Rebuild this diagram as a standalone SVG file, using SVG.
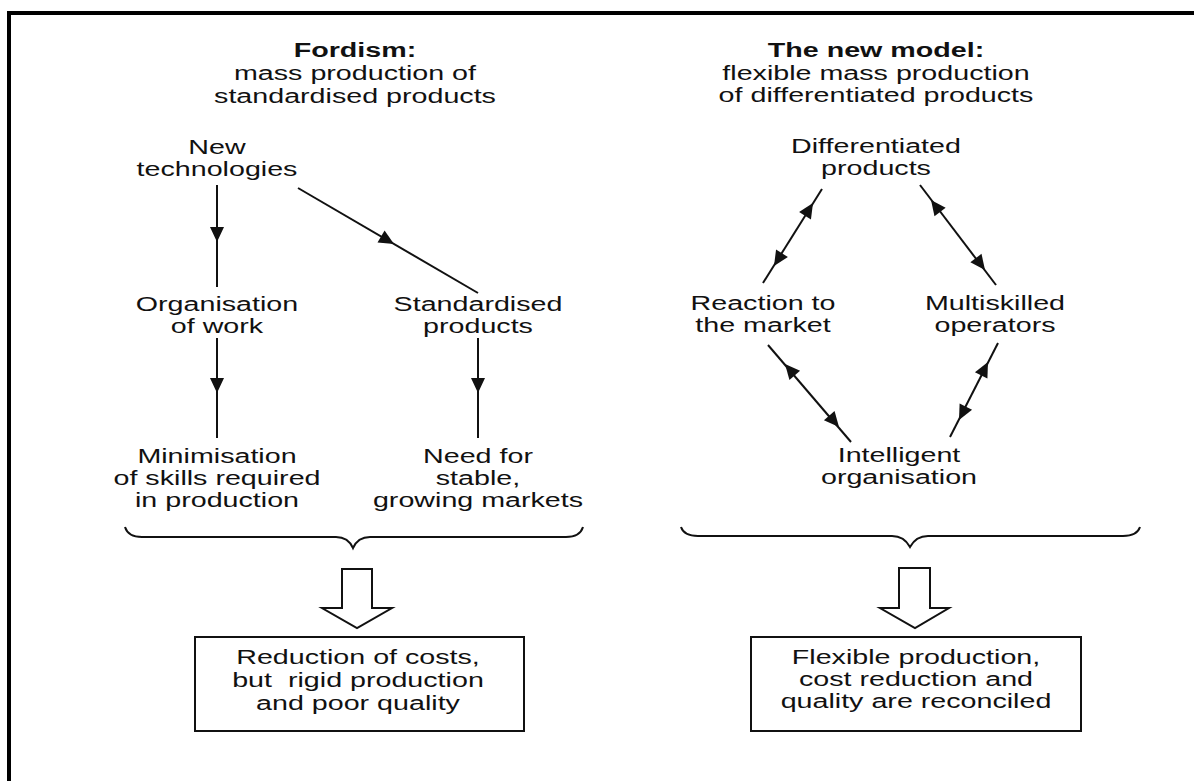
<svg xmlns="http://www.w3.org/2000/svg" xmlns:xlink="http://www.w3.org/1999/xlink" width="1194" height="781" viewBox="0 0 1194 781">
<style>
text{font-family:"Liberation Sans",Arial,Helvetica,sans-serif;font-size:19.5px;fill:#111;text-anchor:middle}
.b{font-weight:bold}
.ln{stroke:#111;stroke-width:2;fill:none}
.hd{fill:#111}
.box{fill:#fff;stroke:#111;stroke-width:2}
.fat{fill:#fff;stroke:#111;stroke-width:2;stroke-linejoin:miter}
</style>
<defs>
<path id="head" d="M0,0 L-15,-7 L-15,7 Z"/>
</defs>
<rect width="1194" height="781" fill="#fff"/>
<path d="M9,781 V13 H1194" fill="none" stroke="#000" stroke-width="4"/>

<g id="title-left" transform="translate(355,0) scale(1.47,1)">
<text class="b" x="0" y="57">Fordism:</text>
<text x="0" y="80">mass production of</text>
<text x="0" y="103">standardised products</text>
</g>
<g id="title-right" transform="translate(876,0) scale(1.47,1)">
<text class="b" x="0" y="57">The new model:</text>
<text x="0" y="80">flexible mass production</text>
<text x="0" y="102">of differentiated products</text>
</g>

<g id="new-technologies" transform="translate(217,0) scale(1.47,1)">
<text x="0" y="154">New</text>
<text x="0" y="176">technologies</text>
</g>
<g id="organisation-of-work" transform="translate(217,0) scale(1.47,1)">
<text x="0" y="311">Organisation</text>
<text x="0" y="333">of work</text>
</g>
<g id="standardised-products" transform="translate(478,0) scale(1.47,1)">
<text x="0" y="311">Standardised</text>
<text x="0" y="333">products</text>
</g>
<g id="minimisation" transform="translate(217,0) scale(1.47,1)">
<text x="0" y="463">Minimisation</text>
<text x="0" y="485">of skills required</text>
<text x="0" y="507">in production</text>
</g>
<g id="need-markets" transform="translate(478,0) scale(1.47,1)">
<text x="0" y="463">Need for</text>
<text x="0" y="485">stable,</text>
<text x="0" y="507">growing markets</text>
</g>

<g id="differentiated-products" transform="translate(876,0) scale(1.47,1)">
<text x="0" y="153">Differentiated</text>
<text x="0" y="175">products</text>
</g>
<g id="reaction-market" transform="translate(763,0) scale(1.47,1)">
<text x="0" y="310">Reaction to</text>
<text x="0" y="332">the market</text>
</g>
<g id="multiskilled" transform="translate(995,0) scale(1.47,1)">
<text x="0" y="310">Multiskilled</text>
<text x="0" y="332">operators</text>
</g>
<g id="intelligent-organisation" transform="translate(899,0) scale(1.47,1)">
<text x="0" y="462">Intelligent</text>
<text x="0" y="484">organisation</text>
</g>

<g id="result-left">
<rect class="box" x="195" y="637" width="329" height="94"/>
<g transform="translate(358,0) scale(1.47,1)">
<text x="0" y="664">Reduction of costs,</text>
<text x="0" y="687" xml:space="preserve">but  rigid production</text>
<text x="0" y="710">and poor quality</text>
</g>
</g>
<g id="result-right">
<rect class="box" x="751" y="637" width="330" height="94"/>
<g transform="translate(916,0) scale(1.47,1)">
<text x="0" y="664">Flexible production,</text>
<text x="0" y="686">cost reduction and</text>
<text x="0" y="708">quality are reconciled</text>
</g>
</g>

<g id="connectors">
<line class="ln" x1="217" y1="185" x2="217" y2="287"/>
<use href="#head" class="hd" transform="translate(217,242) rotate(90)"/>
<line class="ln" x1="298" y1="188" x2="478" y2="293"/>
<use href="#head" class="hd" transform="translate(394,244) rotate(30.3)"/>
<line class="ln" x1="217" y1="338" x2="217" y2="438"/>
<use href="#head" class="hd" transform="translate(217,393) rotate(90)"/>
<line class="ln" x1="478" y1="338" x2="478" y2="438"/>
<use href="#head" class="hd" transform="translate(478,393) rotate(90)"/>

<line class="ln" x1="822" y1="189" x2="763" y2="283"/>
<use href="#head" class="hd" transform="translate(813,203) rotate(-57.9)"/>
<use href="#head" class="hd" transform="translate(774,266) rotate(122.1)"/>
<line class="ln" x1="920" y1="185" x2="996" y2="285"/>
<use href="#head" class="hd" transform="translate(931,200) rotate(-127.2)"/>
<use href="#head" class="hd" transform="translate(985,270) rotate(52.8)"/>
<line class="ln" x1="768" y1="345" x2="851" y2="442"/>
<use href="#head" class="hd" transform="translate(785,364) rotate(-130.6)"/>
<use href="#head" class="hd" transform="translate(839,427) rotate(49.4)"/>
<line class="ln" x1="998" y1="343" x2="950" y2="437"/>
<use href="#head" class="hd" transform="translate(988,362) rotate(-62.9)"/>
<use href="#head" class="hd" transform="translate(959,420) rotate(117.1)"/>

<path class="ln" d="M125,527 Q128,537 142,537 H336 Q348,537 353,548 Q358,537 370,537 H566 Q580,537 583,527"/>
<path class="ln" d="M681,527 Q684,536 698,536 H892 Q904,536 910,547 Q916,536 928,536 H1123 Q1137,536 1140,527"/>

<path class="fat" d="M342,569 H372 V608 H392 L357,628 L322,608 H342 Z"/>
<path class="fat" d="M899,568 H930 V608 H949 L915,628 L880,608 H899 Z"/>
</g>
</svg>
